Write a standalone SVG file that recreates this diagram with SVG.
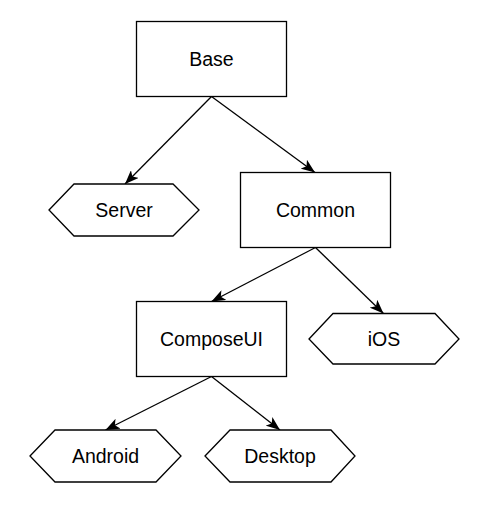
<svg xmlns="http://www.w3.org/2000/svg" width="502" height="508" viewBox="0 0 502 508">
<style>
.n{fill:#fff;stroke:#000;stroke-width:1.3}
.t{font-family:"Liberation Sans",Arial,sans-serif;font-size:19.5px;fill:#000;text-anchor:middle;dominant-baseline:central}
.e{fill:none;stroke:#000;stroke-width:1.3;marker-end:url(#arr)}
</style>
<defs>
<marker id="arr" markerUnits="userSpaceOnUse" viewBox="0 0 14 11" refX="14" refY="5.5" markerWidth="14" markerHeight="11" orient="auto">
<path d="M0,0 L14,5.5 L0,11 L3.5,5.5 Z" fill="#000"/>
</marker>
</defs>
<rect width="502" height="508" fill="#fff"/>
<g id="edges">
<line class="e" x1="211.5" y1="96.5" x2="125" y2="184"/>
<line class="e" x1="211.5" y1="96.5" x2="315" y2="172.5"/>
<line class="e" x1="315.5" y1="247.5" x2="211.5" y2="301.5"/>
<line class="e" x1="315.5" y1="247.5" x2="383.5" y2="313.5"/>
<line class="e" x1="211.5" y1="376.5" x2="105.5" y2="430"/>
<line class="e" x1="211.5" y1="376.5" x2="280" y2="430"/>
</g>
<g id="base"><rect class="n" x="136.5" y="21.5" width="150" height="75"/><text class="t" x="211.5" y="59">Base</text></g>
<g id="server"><polygon class="n" points="49,210 74,184 173,184 199,210 173,236 74,236"/><text class="t" x="124" y="210">Server</text></g>
<g id="common"><rect class="n" x="240.5" y="172.5" width="150" height="75"/><text class="t" x="315.5" y="210">Common</text></g>
<g id="composeui"><rect class="n" x="136.5" y="301.5" width="150" height="75"/><text class="t" x="211.5" y="339">ComposeUI</text></g>
<g id="ios"><polygon class="n" points="309,339 333,313.5 435,313.5 459,339 435,364 333,364"/><text class="t" x="384" y="339">iOS</text></g>
<g id="android"><polygon class="n" points="30,456 55,430 156,430 181,456 156,482 55,482"/><text class="t" x="105.5" y="456">Android</text></g>
<g id="desktop"><polygon class="n" points="205,456 230,430 331,430 355,456 331,482 230,482"/><text class="t" x="280" y="456">Desktop</text></g>
</svg>
